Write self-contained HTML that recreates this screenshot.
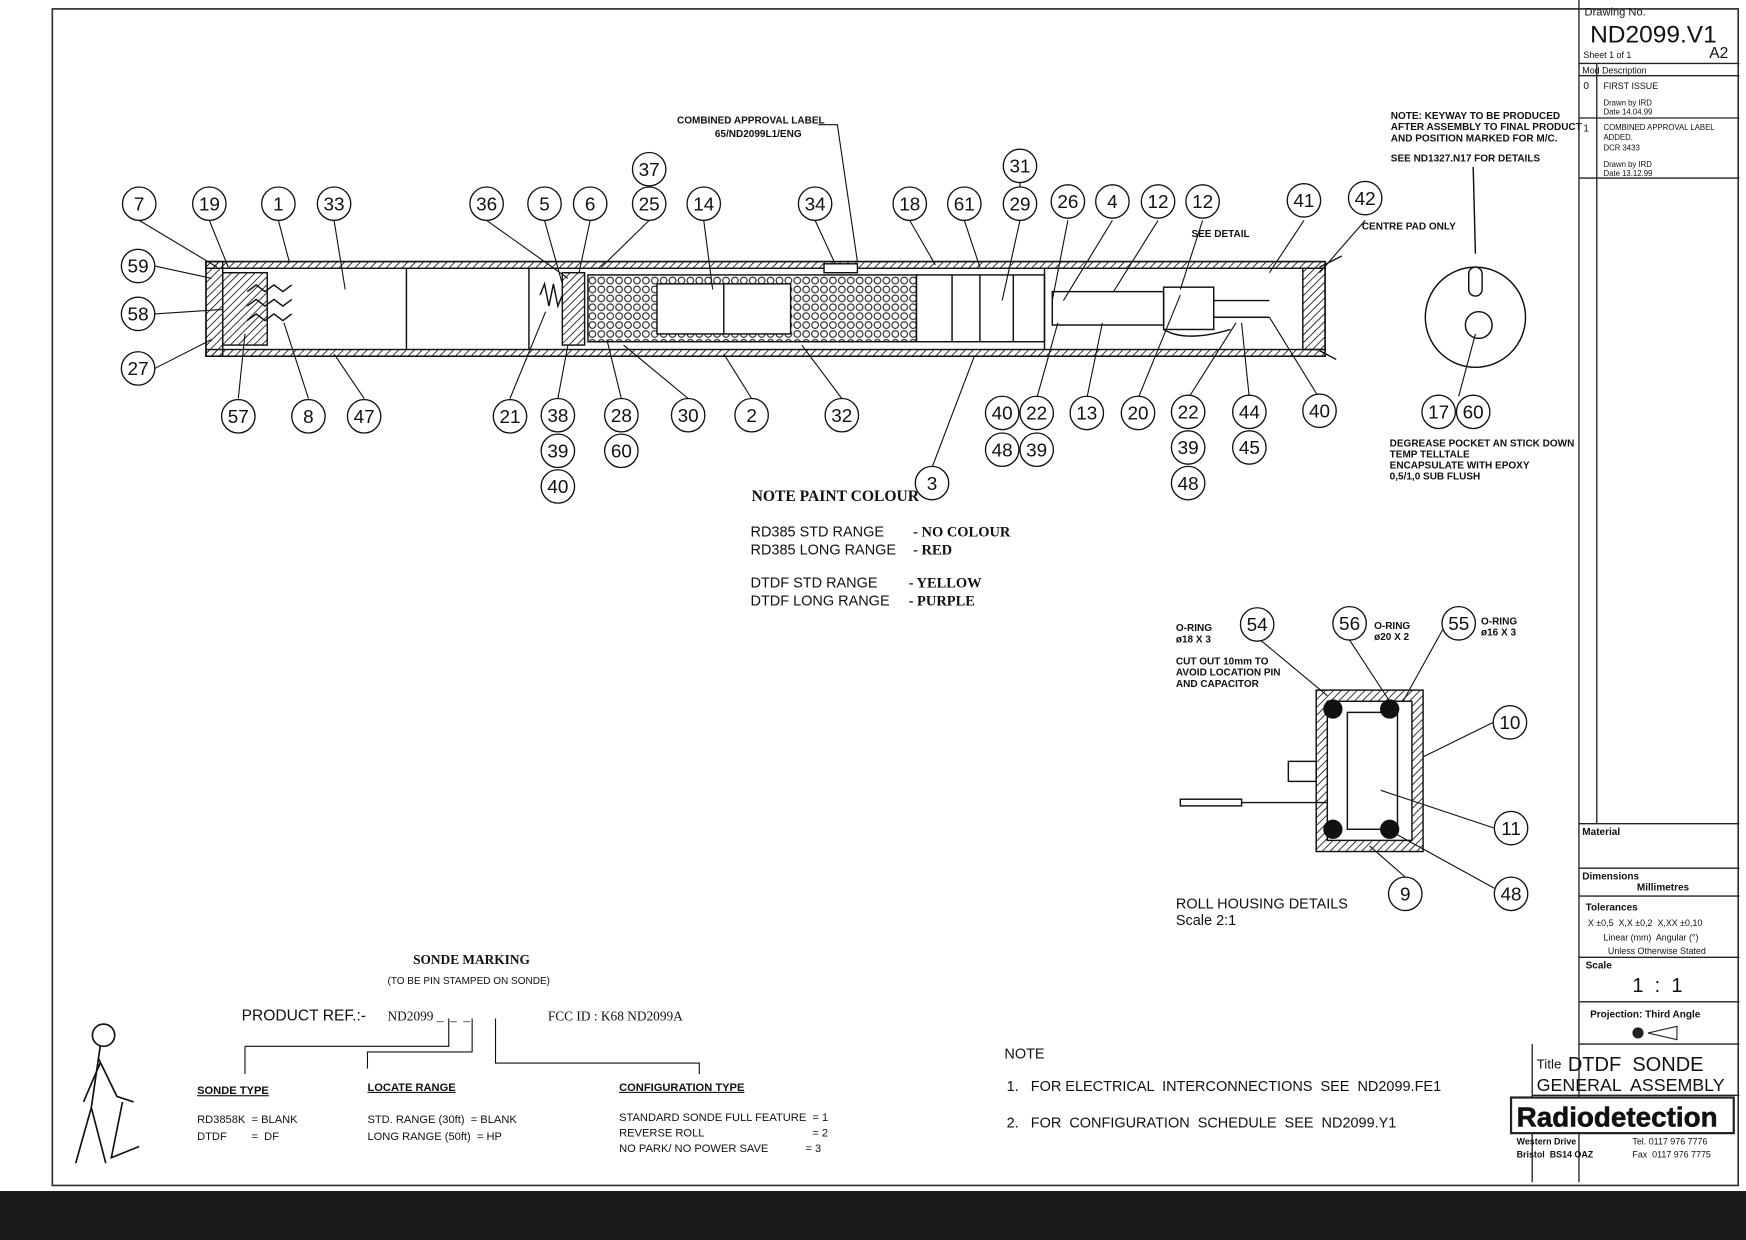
<!DOCTYPE html>
<html><head><meta charset="utf-8"><style>
html,body{margin:0;padding:0;background:#fff;}
svg{display:block;}
text{font-family:"Liberation Sans",sans-serif;fill:#111;white-space:pre;}
.s{font-family:"Liberation Serif",serif;}
</style></head><body>
<svg width="1746" height="1240" viewBox="0 0 1568 1114" preserveAspectRatio="none" xmlns="http://www.w3.org/2000/svg" xml:space="preserve">
<defs>
<pattern id="h" width="5" height="5" patternUnits="userSpaceOnUse" patternTransform="rotate(45)"><line x1="0" y1="0" x2="0" y2="5" stroke="#222" stroke-width="1.6"/></pattern>
<pattern id="c" width="8" height="8" patternUnits="userSpaceOnUse"><circle cx="4" cy="4" r="3" fill="none" stroke="#222" stroke-width="1"/></pattern>
</defs>
<rect width="1568" height="1114" fill="#fff"/>
<rect x="47" y="8" width="1514" height="1057" fill="none" stroke="#333" stroke-width="1.5"/>
<rect x="0" y="1070" width="1568" height="44" fill="#1a1a1a"/>
<g stroke="#222" stroke-width="1.2" fill="none">
<line x1="1418" y1="0" x2="1418" y2="1062"/>
<line x1="1418" y1="57" x2="1562" y2="57"/>
<line x1="1418" y1="68" x2="1562" y2="68"/>
<line x1="1418" y1="106" x2="1562" y2="106"/>
<line x1="1418" y1="160" x2="1562" y2="160"/>
<line x1="1434" y1="57" x2="1434" y2="740"/>
<line x1="1418" y1="740" x2="1562" y2="740"/>
<line x1="1418" y1="780" x2="1562" y2="780"/>
<line x1="1418" y1="805" x2="1562" y2="805"/>
<line x1="1418" y1="860" x2="1562" y2="860"/>
<line x1="1418" y1="900" x2="1562" y2="900"/>
<line x1="1418" y1="938" x2="1562" y2="938"/>
<line x1="1376" y1="938" x2="1376" y2="1062"/>
<line x1="1376" y1="984" x2="1562" y2="984"/>
</g>
<text x="1423" y="14" font-size="10">Drawing No.</text>
<text x="1428" y="38" font-size="22">ND2099.V1</text>
<text x="1422" y="52" font-size="8">Sheet 1 of 1</text>
<text x="1535" y="52" font-size="14">A2</text>
<text x="1421" y="66" font-size="8">Mod Description</text>
<text x="1422" y="80" font-size="9">0</text><text x="1440" y="80" font-size="8">FIRST ISSUE</text>
<text x="1440" y="95" font-size="7">Drawn by IRD</text><text x="1440" y="103" font-size="7">Date 14.04.99</text>
<text x="1422" y="118" font-size="9">1</text><text x="1440" y="117" font-size="7">COMBINED APPROVAL LABEL</text>
<text x="1440" y="126" font-size="7">ADDED.</text><text x="1440" y="135" font-size="7">DCR 3433</text>
<text x="1440" y="150" font-size="7">Drawn by IRD</text><text x="1440" y="158" font-size="7">Date 13.12.99</text>
<text x="1421" y="750" font-size="9" font-weight="bold">Material</text>
<text x="1421" y="790" font-size="9" font-weight="bold">Dimensions</text>
<text x="1470" y="800" font-size="9" font-weight="bold">Millimetres</text>
<text x="1424" y="818" font-size="9" font-weight="bold">Tolerances</text>
<text x="1426" y="832" font-size="8">X ±0,5  X,X ±0,2  X,XX ±0,10</text>
<text x="1440" y="845" font-size="8">Linear (mm)  Angular (°)</text>
<text x="1444" y="857" font-size="8">Unless Otherwise Stated</text>
<text x="1424" y="870" font-size="9" font-weight="bold">Scale</text>
<text x="1466" y="891" font-size="18">1  :  1</text>
<text x="1428" y="914" font-size="9" font-weight="bold">Projection: Third Angle</text>
<circle cx="1471" cy="928" r="5" fill="#222"/><path d="M1480 928 L1506 922 L1506 934 Z" fill="none" stroke="#222"/>
<text x="1380" y="960" font-size="12">Title</text>
<text x="1408" y="962" font-size="18">DTDF  SONDE</text>
<text x="1380" y="980" font-size="16">GENERAL  ASSEMBLY</text>
<rect x="1357" y="986" width="200" height="32" fill="#fff" stroke="#222" stroke-width="2"/>
<text x="1362" y="1012" font-size="25" font-weight="bold" stroke="#111" stroke-width="0.5">Radiodetection</text>
<text x="1362" y="1028" font-size="8" font-weight="bold">Western Drive</text>
<text x="1362" y="1040" font-size="8" font-weight="bold">Bristol  BS14 OAZ</text>
<text x="1466" y="1028" font-size="8">Tel. 0117 976 7776</text>
<text x="1466" y="1040" font-size="8">Fax  0117 976 7775</text>

<g stroke="#111" stroke-width="1.3" fill="none">
<rect x="185" y="235" width="1005" height="85"/>
<rect x="185" y="235" width="1005" height="6" fill="url(#h)"/>
<rect x="185" y="314" width="1005" height="6" fill="url(#h)"/>
<rect x="185" y="235" width="15" height="85" fill="url(#h)"/>
<rect x="200" y="245" width="40" height="65" fill="url(#h)"/>
<path d="M222 262 l8 -6 l8 6 l8 -6 l8 6 l8 -6 M222 275 l8 -6 l8 6 l8 -6 l8 6 l8 -6 M222 288 l8 -6 l8 6 l8 -6 l8 6 l8 -6"/>
<line x1="365" y1="241" x2="365" y2="314"/>
<line x1="475" y1="241" x2="475" y2="314"/>
<path d="M485 265 l4 -10 l4 20 l4 -20 l4 20 l4 -10"/>
<rect x="505" y="245" width="20" height="65" fill="url(#h)"/>
<rect x="528" y="247" width="295" height="60" fill="url(#c)"/>
<rect x="590" y="255" width="120" height="45" fill="#fff"/>
<line x1="650" y1="255" x2="650" y2="300"/>
<rect x="740" y="237" width="30" height="8" fill="#fff"/>
<rect x="823" y="247" width="115" height="60"/>
<line x1="855" y1="247" x2="855" y2="307"/><line x1="880" y1="247" x2="880" y2="307"/><line x1="910" y1="247" x2="910" y2="307"/>
<line x1="938" y1="241" x2="938" y2="314"/>
<rect x="945" y="262" width="100" height="30"/>
<rect x="1045" y="258" width="45" height="38"/>
<path d="M1045 296 q20 12 60 0 M1090 270 l50 0 M1090 285 l50 0"/>
<rect x="1170" y="241" width="20" height="73" fill="url(#h)"/>
<path d="M1185 240 l20 -10 M1185 315 l15 8"/>
</g>
<g stroke="#111" fill="none" stroke-width="1.3">
<circle cx="1325" cy="285" r="45"/>
<rect x="1319" y="240" width="12" height="26" rx="6" fill="#fff"/>
<circle cx="1328" cy="292" r="12"/>
<line x1="1323" y1="150" x2="1325" y2="228"/>
</g>
<g stroke="#111" fill="none" stroke-width="1.3">
<rect x="1182" y="620" width="96" height="145" fill="url(#h)"/>
<rect x="1192" y="630" width="76" height="125" fill="#fff"/>
<rect x="1210" y="640" width="45" height="105"/>
<circle cx="1197" cy="637" r="8" fill="#111"/><circle cx="1248" cy="637" r="8" fill="#111"/>
<circle cx="1197" cy="745" r="8" fill="#111"/><circle cx="1248" cy="745" r="8" fill="#111"/>
<rect x="1157" y="684" width="25" height="18"/>
<rect x="1060" y="718" width="55" height="6"/>
<line x1="1115" y1="721" x2="1192" y2="721"/>
</g>
<g stroke="#111" stroke-width="1" fill="none">
<path d="M125 198 L195 240 M188 198 L205 240 M250 198 L260 236 M300 198 L310 260 M437 198 L510 250 M489 198 L505 255 M530 198 L520 245 M583 198 L540 240 M632 198 L640 260 M732 198 L750 237 M817 198 L840 238 M866 198 L880 240 M916 198 L900 270 M959 198 L945 270 M999 198 L955 270 M1040 198 L1000 262 M1080 198 L1060 260 M1171 198 L1140 245 M1226 198 L1185 245 M139 239 L190 250 M139 282 L200 278 M139 331 L190 305 M214 358 L220 300 M277 358 L255 290 M327 358 L300 318 M458 358 L490 280 M501 358 L510 310 M558 358 L545 305 M618 358 L560 310 M675 358 L650 318 M756 358 L720 310 M837 420 L875 320 M931 358 L950 290 M976 358 L990 290 M1022 358 L1060 265 M1067 358 L1110 290 M1122 358 L1115 290 M1185 358 L1140 285 M1310 356 L1325 300 M583 167 L583 180 M916 164 L916 180 M1115 561 L1192 625 M1212 575 L1248 630 M1296 565 L1260 630 M1341 649 L1278 680 M1342 744 L1240 710 M1262 788 L1230 760 M1342 798 L1255 750 M735 112 L752 112 L770 235"/>
<path d="M220 940 L403 940 L403 915 M330 960 L330 945 L424 945 L424 915 M445 915 L445 955 L628 955 L628 965 M220 940 L220 965"/>
</g>
<g font-size="17" text-anchor="middle" stroke="#111" stroke-width="1.2">
<g fill="#fff">
<circle cx="125" cy="183" r="15"/><circle cx="188" cy="183" r="15"/><circle cx="250" cy="183" r="15"/><circle cx="300" cy="183" r="15"/><circle cx="437" cy="183" r="15"/><circle cx="489" cy="183" r="15"/><circle cx="530" cy="183" r="15"/><circle cx="583" cy="183" r="15"/><circle cx="632" cy="183" r="15"/><circle cx="732" cy="183" r="15"/><circle cx="817" cy="183" r="15"/><circle cx="866" cy="183" r="15"/><circle cx="916" cy="183" r="15"/><circle cx="959" cy="181" r="15"/><circle cx="999" cy="181" r="15"/><circle cx="1040" cy="181" r="15"/><circle cx="1080" cy="181" r="15"/><circle cx="1171" cy="180" r="15"/><circle cx="1226" cy="178" r="15"/><circle cx="583" cy="152" r="15"/><circle cx="916" cy="149" r="15"/>
<circle cx="124" cy="239" r="15"/><circle cx="124" cy="282" r="15"/><circle cx="124" cy="331" r="15"/>
<circle cx="214" cy="374" r="15"/><circle cx="277" cy="374" r="15"/><circle cx="327" cy="374" r="15"/><circle cx="458" cy="374" r="15"/><circle cx="501" cy="373" r="15"/><circle cx="558" cy="373" r="15"/><circle cx="618" cy="373" r="15"/><circle cx="675" cy="373" r="15"/><circle cx="756" cy="373" r="15"/><circle cx="900" cy="371" r="15"/><circle cx="931" cy="371" r="15"/><circle cx="976" cy="371" r="15"/><circle cx="1022" cy="371" r="15"/><circle cx="1067" cy="370" r="15"/><circle cx="1122" cy="370" r="15"/><circle cx="1185" cy="369" r="15"/>
<circle cx="501" cy="405" r="15"/><circle cx="501" cy="437" r="15"/><circle cx="558" cy="405" r="15"/><circle cx="837" cy="434" r="15"/><circle cx="900" cy="404" r="15"/><circle cx="931" cy="404" r="15"/><circle cx="1067" cy="402" r="15"/><circle cx="1067" cy="434" r="15"/><circle cx="1122" cy="402" r="15"/><circle cx="1292" cy="370" r="15"/><circle cx="1323" cy="370" r="15"/>
<circle cx="1129" cy="561" r="15"/><circle cx="1212" cy="560" r="15"/><circle cx="1310" cy="560" r="15"/><circle cx="1356" cy="649" r="15"/><circle cx="1357" cy="744" r="15"/><circle cx="1262" cy="803" r="15"/><circle cx="1357" cy="803" r="15"/>
</g>
<g stroke="none">
<text x="125" y="189">7</text><text x="188" y="189">19</text><text x="250" y="189">1</text><text x="300" y="189">33</text><text x="437" y="189">36</text><text x="489" y="189">5</text><text x="530" y="189">6</text><text x="583" y="189">25</text><text x="632" y="189">14</text><text x="732" y="189">34</text><text x="817" y="189">18</text><text x="866" y="189">61</text><text x="916" y="189">29</text><text x="959" y="187">26</text><text x="999" y="187">4</text><text x="1040" y="187">12</text><text x="1080" y="187">12</text><text x="1171" y="186">41</text><text x="1226" y="184">42</text><text x="583" y="158">37</text><text x="916" y="155">31</text>
<text x="124" y="245">59</text><text x="124" y="288">58</text><text x="124" y="337">27</text>
<text x="214" y="380">57</text><text x="277" y="380">8</text><text x="327" y="380">47</text><text x="458" y="380">21</text><text x="501" y="379">38</text><text x="558" y="379">28</text><text x="618" y="379">30</text><text x="675" y="379">2</text><text x="756" y="379">32</text><text x="900" y="377">40</text><text x="931" y="377">22</text><text x="976" y="377">13</text><text x="1022" y="377">20</text><text x="1067" y="376">22</text><text x="1122" y="376">44</text><text x="1185" y="375">40</text>
<text x="501" y="411">39</text><text x="501" y="443">40</text><text x="558" y="411">60</text><text x="837" y="440">3</text><text x="900" y="410">48</text><text x="931" y="410">39</text><text x="1067" y="408">39</text><text x="1067" y="440">48</text><text x="1122" y="408">45</text><text x="1292" y="376">17</text><text x="1323" y="376">60</text>
<text x="1129" y="567">54</text><text x="1212" y="566">56</text><text x="1310" y="566">55</text><text x="1356" y="655">10</text><text x="1357" y="750">11</text><text x="1262" y="809">9</text><text x="1357" y="809">48</text>
</g></g>

<g font-size="9" font-weight="bold">
<text x="608" y="111">COMBINED APPROVAL LABEL</text><text x="642" y="123">65/ND2099L1/ENG</text>
<text x="1249" y="107">NOTE: KEYWAY TO BE PRODUCED</text><text x="1249" y="117">AFTER ASSEMBLY TO FINAL PRODUCT</text><text x="1249" y="127">AND POSITION MARKED FOR M/C.</text><text x="1249" y="145">SEE ND1327.N17 FOR DETAILS</text>
<text x="1223" y="206">CENTRE PAD ONLY</text>
<text x="1070" y="213">SEE DETAIL</text>
<text x="1248" y="401">DEGREASE POCKET AN STICK DOWN</text><text x="1248" y="411">TEMP TELLTALE</text><text x="1248" y="421">ENCAPSULATE WITH EPOXY</text><text x="1248" y="431">0,5/1,0 SUB FLUSH</text>
<text x="1056" y="567">O-RING</text><text x="1056" y="577">ø18 X 3</text>
<text x="1234" y="565">O-RING</text><text x="1234" y="575">ø20 X 2</text>
<text x="1330" y="561">O-RING</text><text x="1330" y="571">ø16 X 3</text>
<text x="1056" y="597">CUT OUT 10mm TO</text><text x="1056" y="607">AVOID LOCATION PIN</text><text x="1056" y="617">AND CAPACITOR</text>
</g>
<text x="675" y="450" font-size="14" class="s" font-weight="bold">NOTE PAINT COLOUR</text>
<g font-size="13">
<text x="674" y="482">RD385 STD RANGE</text><text x="820" y="482" class="s" font-weight="bold">- NO COLOUR</text>
<text x="674" y="498">RD385 LONG RANGE</text><text x="820" y="498" class="s" font-weight="bold">- RED</text>
<text x="674" y="528">DTDF STD RANGE</text><text x="816" y="528" class="s" font-weight="bold">- YELLOW</text>
<text x="674" y="544">DTDF LONG RANGE</text><text x="816" y="544" class="s" font-weight="bold">- PURPLE</text>
<text x="1056" y="816">ROLL HOUSING DETAILS</text><text x="1056" y="831">Scale 2:1</text>
<text x="902" y="951">NOTE</text>
<text x="904" y="980">1.   FOR ELECTRICAL  INTERCONNECTIONS  SEE  ND2099.FE1</text>
<text x="904" y="1013">2.   FOR  CONFIGURATION  SCHEDULE  SEE  ND2099.Y1</text>
</g>
<text x="371" y="866" font-size="12" class="s" font-weight="bold">SONDE MARKING</text>
<text x="348" y="884" font-size="9">(TO BE PIN STAMPED ON SONDE)</text>
<text x="217" y="917" font-size="14">PRODUCT REF.:-</text>
<text x="348" y="917" font-size="12" class="s">ND2099 _  _  _</text>
<text x="492" y="917" font-size="12" class="s">FCC ID : K68 ND2099A</text>
<g font-size="10" class="s">
<text x="177" y="983" text-decoration="underline" font-weight="bold">SONDE TYPE</text>
<text x="330" y="980" text-decoration="underline" font-weight="bold">LOCATE RANGE</text>
<text x="556" y="980" text-decoration="underline" font-weight="bold">CONFIGURATION TYPE</text>
<text x="177" y="1009">RD3858K  = BLANK</text><text x="177" y="1024">DTDF        =  DF</text>
<text x="330" y="1009">STD. RANGE (30ft)  = BLANK</text><text x="330" y="1024">LONG RANGE (50ft)  = HP</text>
<text x="556" y="1007">STANDARD SONDE FULL FEATURE  = 1</text><text x="556" y="1021">REVERSE ROLL                                   = 2</text><text x="556" y="1035">NO PARK/ NO POWER SAVE            = 3</text>
</g>
<g stroke="#111" stroke-width="1.5" fill="none">
<circle cx="93" cy="930" r="10"/>
<path d="M90 940 L82 995 L68 1045 M82 995 L95 1045 M88 950 L105 985 L120 990 M90 955 L75 990 M110 990 L100 1040 L125 1030"/>
</g>
</svg>
</body></html>
